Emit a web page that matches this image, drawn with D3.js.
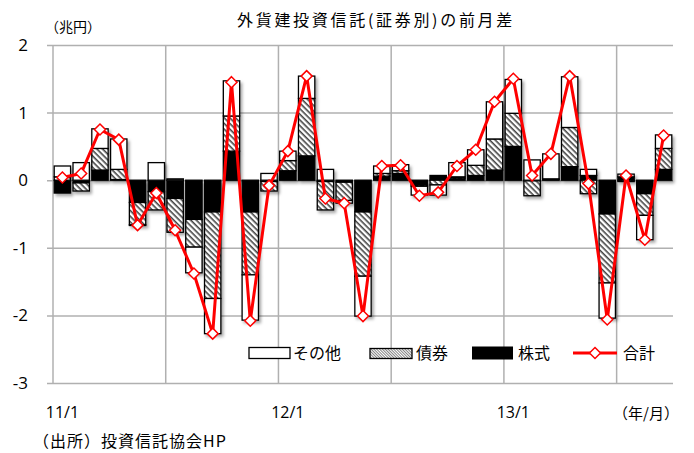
<!DOCTYPE html>
<html>
<head>
<meta charset="utf-8">
<script src="https://cdn.jsdelivr.net/npm/d3@7"></script>
<style>
  body { margin: 0; background: #fff; }
  svg { display: block; font-family: "Noto Sans CJK JP", "Noto Sans", sans-serif; }
</style>
</head>
<body>
<div class="chart"></div>
<script>
// months 11/1 .. 13/9
var months = ["11/1","11/2","11/3","11/4","11/5","11/6","11/7","11/8","11/9","11/10","11/11","11/12",
  "12/1","12/2","12/3","12/4","12/5","12/6","12/7","12/8","12/9","12/10","12/11","12/12",
  "13/1","13/2","13/3","13/4","13/5","13/6","13/7","13/8","13/9"];
var tickLabels = ["11/1", "12/1", "13/1"];

// 株式 (black)
var stock = [-0.19,-0.04,0.15,0.01,-0.33,-0.17,-0.27,-0.58,-0.47,0.43,-0.47,-0.02,
  0.14,0.36,-0.02,-0.03,-0.47,0.06,0.10,-0.07,0.07,0.03,0.07,0.15,
  0.50,-0.01,0.01,0.20,0.07,-0.50,0.05,-0.20,0.16];
// 債券 (hatched)
var bond = [0.05,-0.12,0.32,0.15,-0.33,-0.27,-0.50,-0.41,-1.28,0.52,-0.93,-0.14,
  0.15,0.85,-0.42,-0.27,-0.95,0.04,0.04,-0.02,-0.07,0.02,0.15,0.46,
  0.49,-0.22,0.01,0.58,-0.20,-1.02,-0.02,-0.32,0.31];
// その他 (white)
var other = [0.16,0.26,0.29,0.45,-0.01,0.26,0.02,-0.38,-0.52,0.52,-0.67,0.10,
  0.14,0.33,0.16,-0.04,-0.59,0.11,0.09,-0.13,-0.15,0.21,0.23,0.55,
  0.50,0.30,0.37,0.75,0.09,-0.52,0.04,-0.36,0.20];
// 合計 (red line)
var total = [0.04,0.10,0.75,0.60,-0.665,-0.19,-0.74,-1.38,-2.27,1.45,-2.08,-0.08,
  0.43,1.54,-0.27,-0.34,-2.01,0.21,0.22,-0.23,-0.18,0.21,0.45,1.16,
  1.50,0.07,0.39,1.54,-0.05,-2.06,0.07,-0.88,0.66];
var yTicks = [-3,-2,-1,0,1,2];

var svgWidth = 694, svgHeight = 453;
var plot = {left: 53, right: 673, top: 45, bottom: 383};

var svg = d3.select(".chart").append("svg")
  .attr("width", svgWidth).attr("height", svgHeight);

var defs = svg.append("defs");
var hatch = defs.append("pattern")
  .attr("id", "hatch").attr("patternUnits", "userSpaceOnUse")
  .attr("width", 4).attr("height", 4)
  .attr("patternTransform", "rotate(45)");
hatch.append("rect").attr("width", 4).attr("height", 4).attr("fill", "#fff");
hatch.append("rect").attr("width", 4).attr("height", 1.6).attr("fill", "#444");

var fine = defs.append("pattern")
  .attr("id", "fine").attr("patternUnits", "userSpaceOnUse")
  .attr("width", 2).attr("height", 2)
  .attr("patternTransform", "rotate(45)");
fine.append("rect").attr("width", 2).attr("height", 2).attr("fill", "#fff");
fine.append("rect").attr("width", 2).attr("height", 0.9).attr("fill", "#777");

var shadow = defs.append("filter").attr("id", "shadow")
  .attr("x", "-20%").attr("y", "-20%").attr("width", "150%").attr("height", "150%");
shadow.append("feDropShadow").attr("dx", 2).attr("dy", 2.5)
  .attr("stdDeviation", 1.5).attr("flood-color", "#000").attr("flood-opacity", 0.35);

// scales
var x = d3.scaleBand().domain(months)
  .range([plot.left, plot.right])
  .paddingInner(0.13).paddingOuter(0.065);
var y = d3.scaleLinear().domain([-3, 2]).range([plot.bottom, plot.top]);

// horizontal gridlines + y labels
var yAxis = svg.append("g")
  .attr("transform", `translate(${plot.right},0)`)
  .call(d3.axisLeft(y).tickValues(yTicks).tickSize(plot.right - plot.left + 6).tickPadding(19).tickFormat(d => String(d)));
yAxis.select(".domain").remove();
yAxis.selectAll("line").attr("stroke", "#b0b0b0").attr("stroke-width", 1.5);
yAxis.selectAll("text").attr("font-size", "17px").attr("fill", "#000")
  .attr("font-family", "'Open Sans', 'Noto Sans', sans-serif");

// vertical gridlines every 6 months
var vIdx = [0, 6, 12, 18, 24, 30];
svg.append("g").selectAll("line").data(vIdx).enter().append("line")
  .attr("x1", d => plot.left + d * x.step())
  .attr("x2", d => plot.left + d * x.step())
  .attr("y1", plot.top).attr("y2", plot.bottom)
  .attr("stroke", "#b0b0b0").attr("stroke-width", 1.5);

// x axis labels
var xAxis = svg.append("g")
  .attr("transform", `translate(0,${plot.bottom})`)
  .call(d3.axisBottom(x).tickValues(tickLabels).tickSize(0).tickPadding(24));
xAxis.select(".domain").remove();
xAxis.selectAll("text").attr("font-size", "16px").attr("fill", "#000")
  .attr("font-family", "'Open Sans', 'Noto Sans', sans-serif");

// stacked bars
var rows = months.map((m, i) => ({month: m, stock: stock[i], bond: bond[i], other: other[i]}));
var keys = ["stock", "bond", "other"];
var fills = {stock: "#000", bond: "url(#hatch)", other: "#fff"};
var series = d3.stack().keys(keys).offset(d3.stackOffsetDiverging)(rows);

var barG = svg.append("g").attr("filter", "url(#shadow)");
series.forEach(function(s) {
  barG.append("g").selectAll("rect").data(s).enter().append("rect")
    .attr("x", d => x(d.data.month))
    .attr("width", x.bandwidth())
    .attr("y", d => y(Math.max(d[0], d[1])))
    .attr("height", d => Math.abs(y(d[0]) - y(d[1])))
    .attr("fill", fills[s.key])
    .attr("stroke", "#000").attr("stroke-width", 1.3);
});

// total line
var line = d3.line()
  .x((d, i) => x(months[i]) + x.bandwidth() / 2)
  .y(d => y(d));
svg.append("path").datum(total)
  .attr("d", line).attr("fill", "none")
  .attr("stroke", "#ff0000").attr("stroke-width", 3).attr("stroke-linejoin", "round");

function diamond(cx, cy, r) {
  return `M${cx},${cy - r}L${cx + r},${cy}L${cx},${cy + r}L${cx - r},${cy}Z`;
}
svg.append("g").selectAll("path").data(total).enter().append("path")
  .attr("d", (d, i) => diamond(x(months[i]) + x.bandwidth() / 2, y(d), 5.5))
  .attr("fill", "#fff").attr("stroke", "#ff0000").attr("stroke-width", 1.5);

// legend
var lg = svg.append("g");
var legendY = 353;
lg.append("rect").attr("x", 249).attr("y", legendY - 5.5).attr("width", 41).attr("height", 11)
  .attr("fill", "#fff").attr("stroke", "#000").attr("stroke-width", 1.3);
lg.append("text").attr("x", 293).attr("y", legendY + 6).text("その他");
lg.append("rect").attr("x", 370).attr("y", legendY - 4.5).attr("width", 42).attr("height", 10)
  .attr("fill", "url(#fine)").attr("stroke", "#000").attr("stroke-width", 1.3);
lg.append("text").attr("x", 416).attr("y", legendY + 6).text("債券");
lg.append("rect").attr("x", 472).attr("y", legendY - 6.5).attr("width", 41).attr("height", 13)
  .attr("fill", "#000");
lg.append("text").attr("x", 518).attr("y", legendY + 6).text("株式");
lg.append("line").attr("x1", 573).attr("x2", 617).attr("y1", legendY).attr("y2", legendY)
  .attr("stroke", "#ff0000").attr("stroke-width", 3);
lg.append("path").attr("d", diamond(595, legendY, 5.5))
  .attr("fill", "#fff").attr("stroke", "#ff0000").attr("stroke-width", 1.5);
lg.append("text").attr("x", 623).attr("y", legendY + 6).text("合計");
lg.selectAll("text").attr("font-size", "16px").attr("fill", "#000");

// titles and notes
svg.append("text").attr("x", 376).attr("y", 26).attr("text-anchor", "middle")
  .attr("font-size", "16px").attr("letter-spacing", "2.7px")
  .text("外貨建投資信託(証券別)の前月差");
svg.append("text").attr("x", 45).attr("y", 32).attr("font-size", "14px").text("（兆円）");
svg.append("text").attr("x", 679).attr("y", 419).attr("text-anchor", "end")
  .attr("font-size", "15px").text("（年/月）");
svg.append("text").attr("x", 33).attr("y", 447).attr("font-size", "16px").attr("letter-spacing", "1px")
  .text("（出所）投資信託協会HP");
</script>
</body>
</html>
